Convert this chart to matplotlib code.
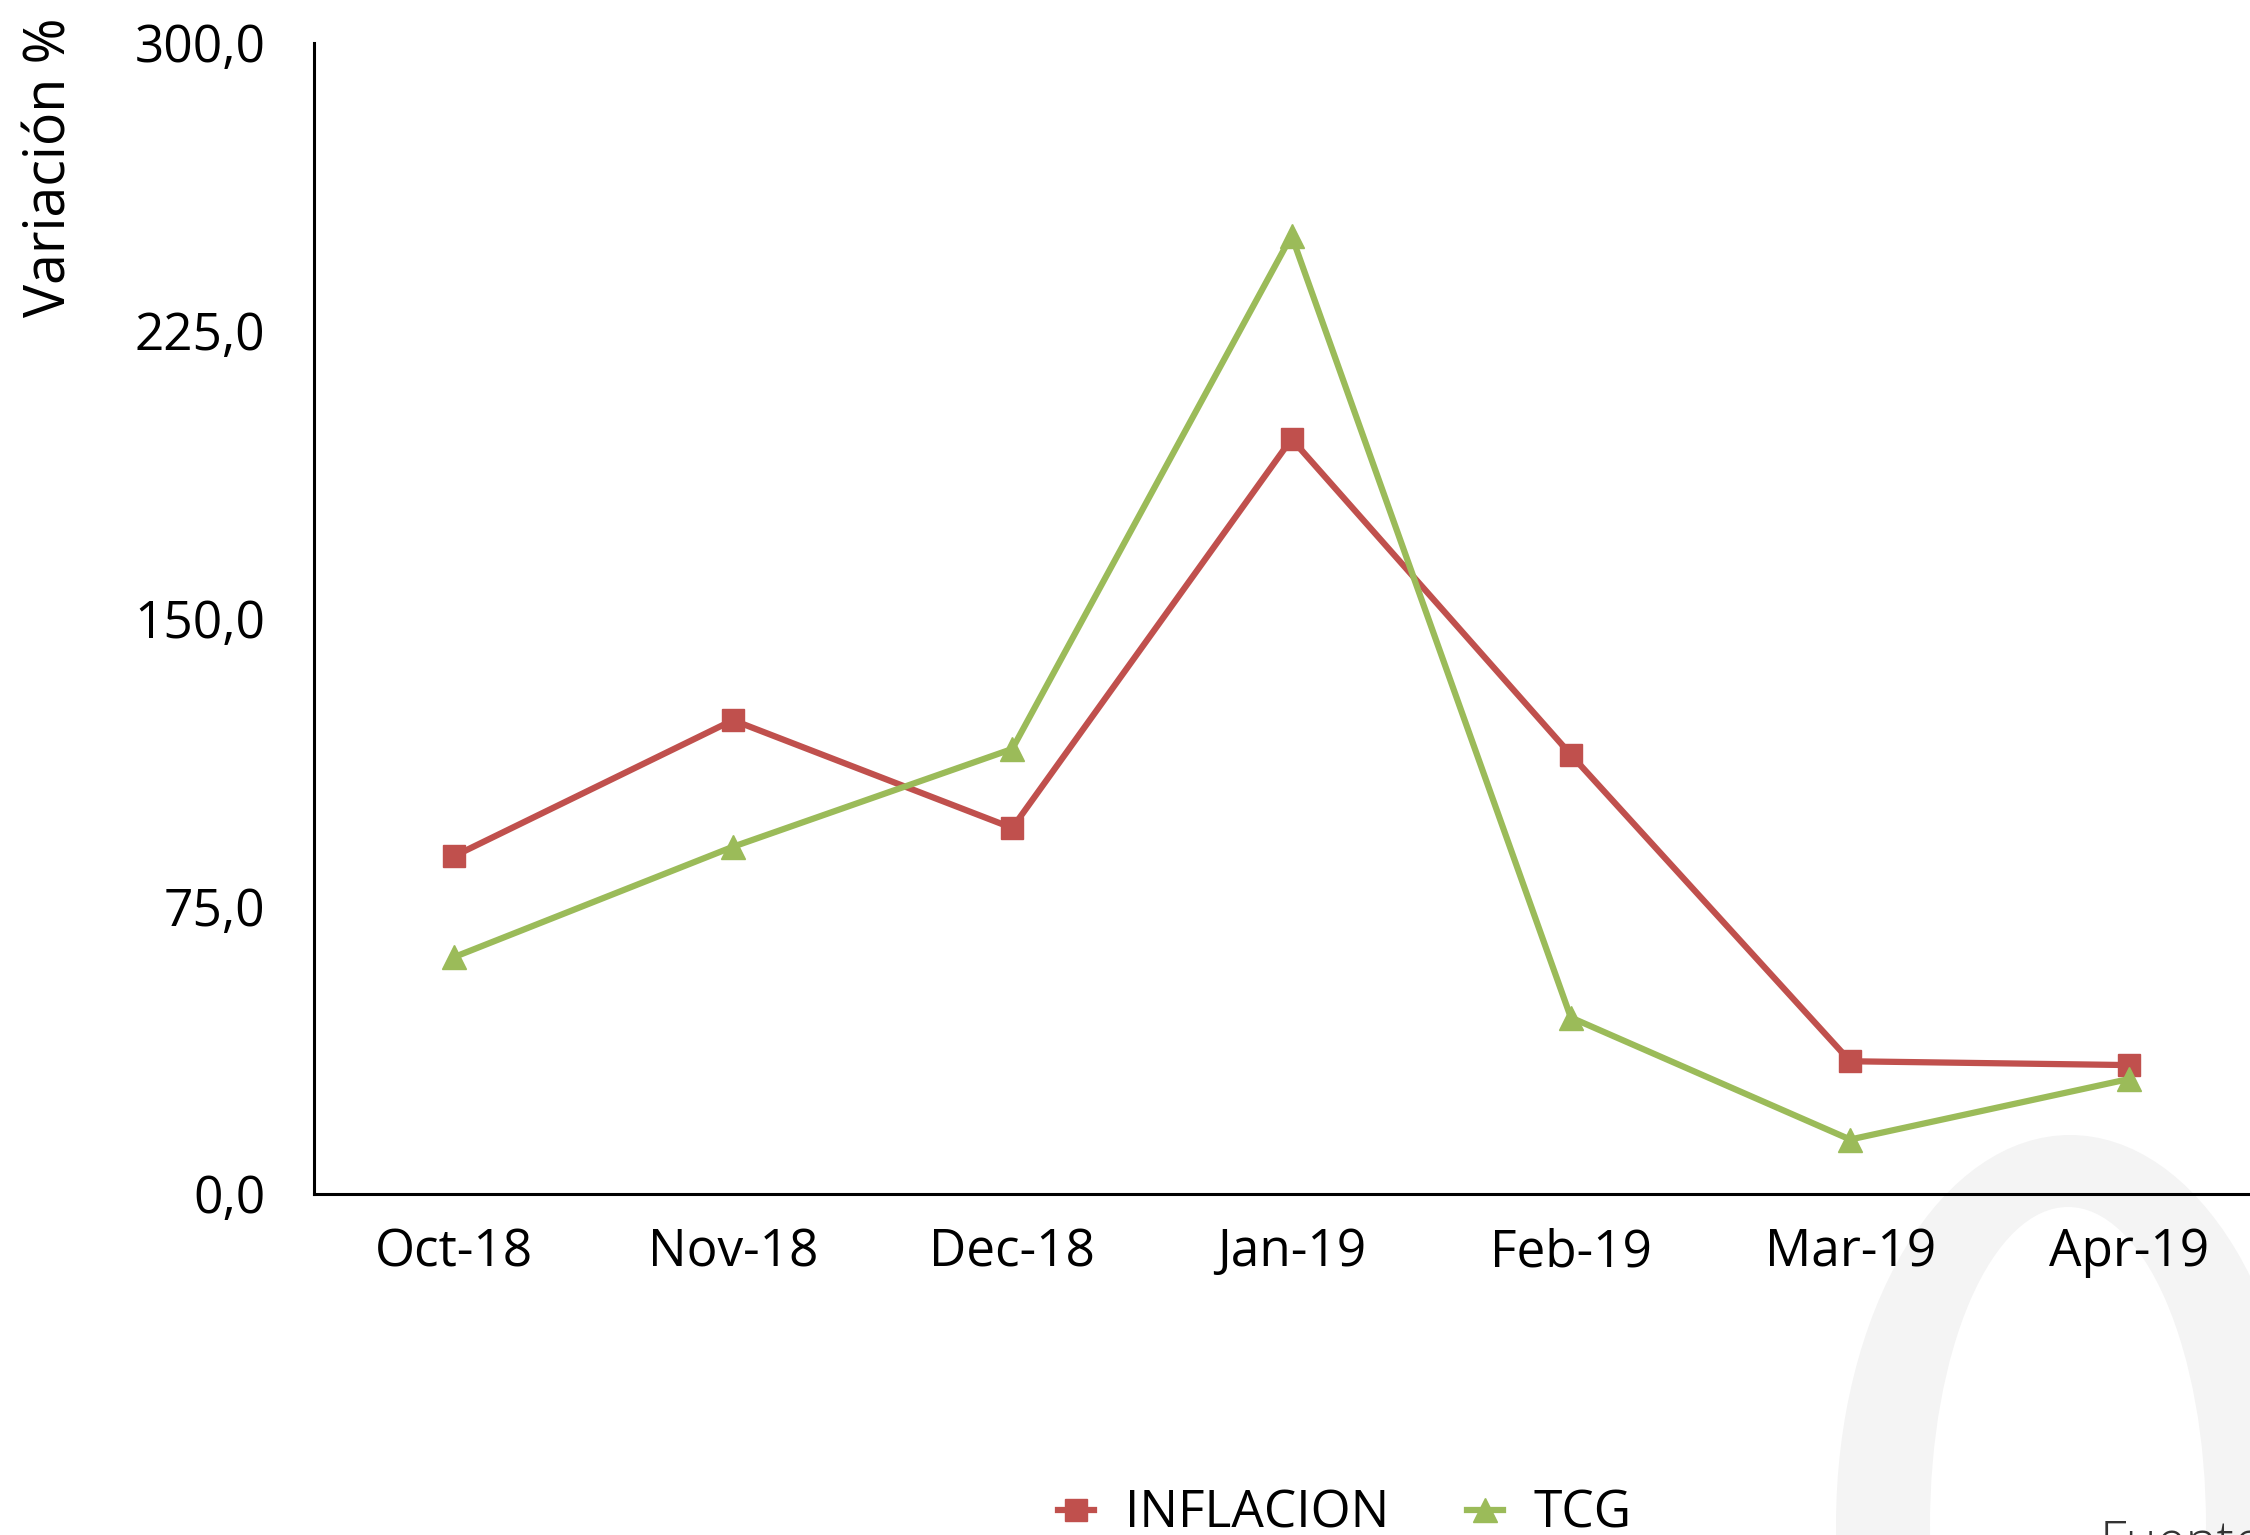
import matplotlib
matplotlib.use("Agg")
import matplotlib.pyplot as plt
import matplotlib.patches as patches
from matplotlib.ticker import FuncFormatter

plt.rcParams['font.family'] = ['Open Sans', 'DejaVu Sans']

months = ['Oct-18', 'Nov-18', 'Dec-18', 'Jan-19', 'Feb-19', 'Mar-19', 'Apr-19']
inflacion = [88.0, 123.5, 95.4, 196.8, 114.5, 34.6, 33.6]
tcg = [61.7, 90.5, 116.0, 249.8, 46.0, 14.2, 30.0]
y_ticks = [0, 75, 150, 225, 300]

W, H = 2250, 1535
fig = plt.figure(figsize=(W / 100, H / 100), dpi=100)


def draw_ellipse(fig, cx, cy, a, b, color, z):
    # centre and semi-axes given in pixels, drawn in figure coordinates
    e = patches.Ellipse((cx / W, 1 - cy / H), 2 * a / W, 2 * b / H,
                        transform=fig.transFigure, facecolor=color,
                        edgecolor='none', zorder=z)
    fig.patches.append(e)


# light grey watermark ring behind the chart
draw_ellipse(fig, 2070, 1525, 234, 390, '#f4f4f4', -2)
draw_ellipse(fig, 2068, 1525, 138, 318, 'white', -1)

ax = fig.add_axes([314 / W, 1 - 1194 / H, 7 * 279.3 / W, (1194 - 43) / H])
ax.set_facecolor('none')
ax.set_zorder(1)

x = range(len(months))
ax.plot(x, inflacion, color='#C0504D', lw=4.5, marker='s', markersize=16,
        label='INFLACION', solid_joinstyle='miter')
ax.plot(x, tcg, color='#9BBB59', lw=4.5, marker='^', markersize=17,
        label='TCG', solid_joinstyle='miter')

ax.set_xlim(-0.5, 6.5)
ax.set_ylim(0, 300)
ax.set_xticks(list(x))
ax.set_xticklabels(months)
ax.set_yticks(y_ticks)
ax.yaxis.set_major_formatter(FuncFormatter(lambda v, p: f"{v:.1f}".replace('.', ',')))

for s in ['top', 'right']:
    ax.spines[s].set_visible(False)
for s in ['left', 'bottom']:
    ax.spines[s].set_linewidth(2.2)
    ax.spines[s].set_color('black')

ax.tick_params(axis='y', length=0, pad=35, labelsize=37)
ax.tick_params(axis='x', length=0, pad=24, labelsize=37)

fig.text(51 / W, 1 - 167 / H, 'Variación %', rotation=90, ha='center',
         va='center', fontsize=40)

fig.legend(loc='center', bbox_to_anchor=(1345 / W, 1 - 1514 / H), ncol=2,
           frameon=False, fontsize=37, handlelength=0.7, handletextpad=0.6,
           columnspacing=1.5, borderpad=0)

fig.text(2100 / W, 1 - 1518 / H, 'Fuente:', ha='left', va='top',
         fontsize=38, color='#333333', fontweight='light')

fig.savefig('out.png', dpi=100)
